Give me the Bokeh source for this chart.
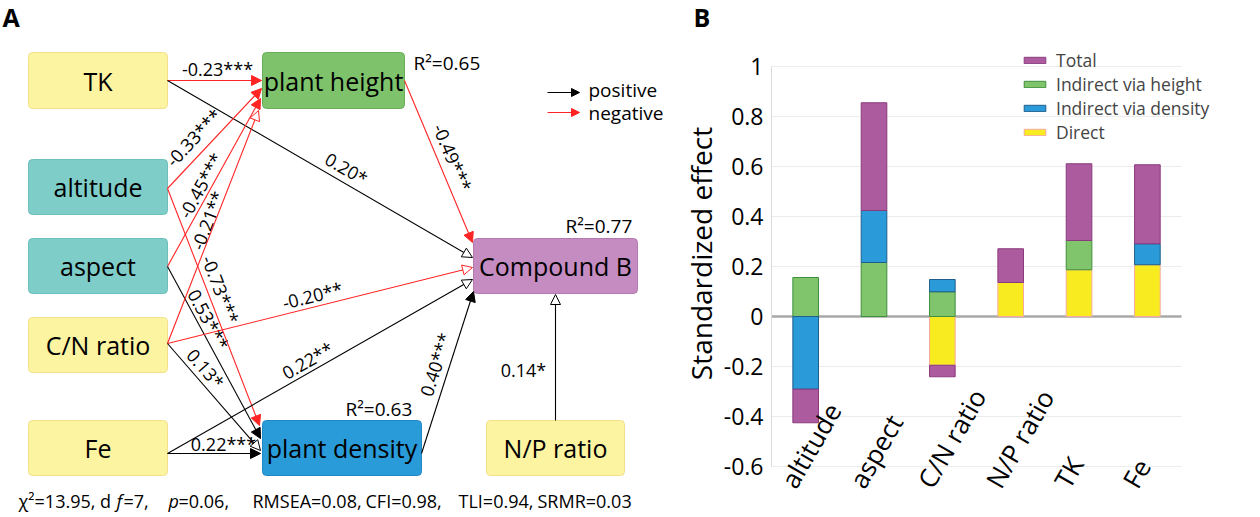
import math
from bokeh.plotting import figure
from bokeh.models import (Range1d, Arrow, NormalHead, ColumnDataSource, Grid,
                          LabelSet, Legend, LegendItem, FixedTicker)
from bokeh.layouts import row
from bokeh.embed import file_html
from bokeh.resources import INLINE
from bokeh.core.properties import value

FONT = "Open Sans"

# ---------------- Panel A data (path model) ----------------
node_names = ["TK", "altitude", "aspect", "C/N ratio", "Fe",
              "plant height", "plant density", "Compound B", "N/P ratio"]
node_kind = ["soil", "topo", "topo", "soil", "soil", "height", "density", "compound", "soil"]
r2_nodes = ["plant height", "Compound B", "plant density"]
r2_values = [0.65, 0.77, 0.63]
edge_from = ["TK", "TK", "altitude", "altitude", "aspect", "aspect", "C/N ratio",
             "C/N ratio", "C/N ratio", "Fe", "Fe", "plant height", "plant density", "N/P ratio"]
edge_to = ["plant height", "Compound B", "plant height", "plant density", "plant height",
           "plant density", "plant height", "Compound B", "plant density", "plant density",
           "Compound B", "Compound B", "Compound B", "Compound B"]
edge_coef = [-0.23, 0.20, -0.33, -0.73, -0.45, 0.53, -0.21, -0.20, 0.13, 0.22, 0.22, -0.49, 0.40, 0.14]
edge_sig = ["***", "*", "***", "***", "***", "***", "**", "**", "*", "***", "**", "***", "***", "*"]
fit_chi2, fit_df, fit_p = "13.95", "7", "0.06"
fit_rmsea, fit_cfi, fit_tli, fit_srmr = "0.08", "0.98", "0.94", "0.03"

# ---------------- Panel B data (standardized effects) ----------------
effect_vars = ["altitude", "aspect", "C/N ratio", "N/P ratio", "TK", "Fe"]
direct = [0.0, 0.0, -0.195, 0.136, 0.187, 0.207]
via_height = [0.156, 0.216, 0.099, 0.0, 0.117, 0.0]
via_density = [-0.291, 0.208, 0.049, 0.0, 0.0, 0.084]
total = [-0.134, 0.431, -0.046, 0.135, 0.307, 0.316]
y_ticks = [-0.6, -0.4, -0.2, 0.0, 0.2, 0.4, 0.6, 0.8, 1.0]
y_tick_labels = ["-0.6", "-0.4", "-0.2", "0", "0.2", "0.4", "0.6", "0.8", "1"]
y_title = "Standardized effect"

# ---------------- layout / style of the diagram (page pixels) ----------------
box_layout = {  # left, top, right, bottom
    "TK": (28, 52, 167, 108), "altitude": (28, 159, 167, 214), "aspect": (28, 238, 167, 293),
    "C/N ratio": (28, 317, 167, 372), "Fe": (28, 420, 167, 475),
    "plant height": (262, 52, 404, 108), "plant density": (262, 420, 421, 475),
    "Compound B": (473, 238, 637, 293), "N/P ratio": (486, 420, 624, 475),
}
kind_style = {
    "soil": ("#fcf4a0", "#f3e08a"), "topo": ("#7fcdc9", "#6cbfbb"),
    "height": ("#7ec36c", "#68ad57"), "density": ("#2a9bd9", "#2288c2"),
    "compound": ("#c48cc1", "#b27aaf"),
}
edge_layout = [  # x1, y1, x2, y2, label cx, label cy
    (167, 80, 261, 80, 217, 68), (167, 80, 472, 257, 346, 168),
    (167, 188, 261, 88, 193, 137), (167, 188, 259, 425, 220, 289),
    (167, 266, 260, 98, 200, 185), (167, 266, 260, 438, 208, 319),
    (167, 343, 258, 110, 207, 220), (167, 343, 472, 267, 312, 295),
    (167, 343, 260, 450, 205, 368), (167, 453, 260, 453, 223, 443),
    (167, 453, 472, 279, 307, 360), (404, 80, 472, 242, 452, 157),
    (421, 453, 473, 291, 435, 364), (555, 420, 555, 294, 523, 369),
]
r2_layout = {"plant height": (413, 62), "Compound B": (565, 225), "plant density": (345, 408)}
RED = "#ff2424"
BLACK = "#000000"

WA = 720
pA = figure(width=WA, height=517, x_range=Range1d(0, WA), y_range=Range1d(517, 0),
            output_backend="svg", toolbar_location=None, min_border=0, title=None)
pA.axis.visible = False
pA.grid.visible = False
pA.outline_line_color = None

# arrows
for i in range(len(edge_from)):
    x1, y1, x2, y2, lx, ly = edge_layout[i]
    col = RED if edge_coef[i] < 0 else BLACK
    filled = edge_sig[i] == "***"
    head = NormalHead(size=10, fill_color=col if filled else "white", line_color=col, line_width=1)
    pA.add_layout(Arrow(end=head, x_start=x1, y_start=y1, x_end=x2, y_end=y2,
                        line_color=col, line_width=1.1))

# boxes
bl, bt, br, bb, bf, bc = [], [], [], [], [], []
for n, k in zip(node_names, node_kind):
    l, t, r, b = box_layout[n]
    bl.append(l); bt.append(t); br.append(r); bb.append(b)
    bf.append(kind_style[k][0]); bc.append(kind_style[k][1])
pA.quad(left=bl, right=br, top=bt, bottom=bb, fill_color=bf, line_color=bc,
        line_width=1, border_radius=4)
pA.text(x=[(l + r) / 2 for l, r in zip(bl, br)], y=[(t + b) / 2 for t, b in zip(bt, bb)],
        text=node_names, text_font=value(FONT), text_font_size="25px",
        text_align="center", text_baseline="middle", text_color="black")

# edge labels
ex, ey, et, ea = [], [], [], []
for i in range(len(edge_from)):
    x1, y1, x2, y2, lx, ly = edge_layout[i]
    ang = math.atan2(-(y2 - y1), (x2 - x1))
    if ang > math.pi / 2 + 1e-6:
        ang -= math.pi
    if ang < -math.pi / 2 - 1e-6:
        ang += math.pi
    if edge_from[i] == "N/P ratio":
        ang = 0.0
    ex.append(lx); ey.append(ly); ea.append(ang)
    et.append(f"{edge_coef[i]:.2f}{edge_sig[i]}")
pA.text(x=ex, y=ey, text=et, angle=ea, text_font=value(FONT), text_font_size="18px",
        text_align="center", text_baseline="middle", text_color="black")

# R2 labels
pA.text(x=[r2_layout[n][0] for n in r2_nodes], y=[r2_layout[n][1] for n in r2_nodes],
        text=[f"R\u00b2={v:.2f}" for v in r2_values], text_font=value(FONT),
        text_font_size="19px", text_align="left", text_baseline="middle", text_color="black")

# legend of arrows
pA.add_layout(Arrow(end=NormalHead(size=8, fill_color=BLACK, line_color=BLACK),
                    x_start=547, y_start=92, x_end=579, y_end=92, line_color=BLACK, line_width=1.1))
pA.add_layout(Arrow(end=NormalHead(size=8, fill_color=RED, line_color=RED),
                    x_start=547, y_start=112, x_end=579, y_end=112, line_color=RED, line_width=1.1))
pA.text(x=[588, 588], y=[89, 112], text=["positive", "negative"], text_font=value(FONT),
        text_font_size="19px", text_align="left", text_baseline="middle", text_color="black")

# panel letters and panel-B axis title (placed in this canvas, left of panel B's axis)
pA.text(x=[2, 693], y=[16, 16], text=["A", "B"], text_font=value(FONT), text_font_size="25px",
        text_font_style="bold", text_align="left", text_baseline="middle", text_color="black")
pA.text(x=[719], y=[253], text=[y_title], angle=math.pi / 2, text_font=value(FONT),
        text_font_size="28px", text_align="center", text_baseline="bottom", text_color="black")

# fit statistics
seg_text = [f"\u03c7\u00b2={fit_chi2}, d", "f", f"={fit_df},", "p", f"={fit_p},",
            f"RMSEA={fit_rmsea},", f"CFI={fit_cfi},", f"TLI={fit_tli},", f"SRMR={fit_srmr}"]
seg_x = [18, 116, 123, 168, 178, 252, 365, 458, 537]
seg_style = ["normal", "italic", "normal", "italic", "normal", "normal", "normal", "normal", "normal"]
for s, x, st in zip(seg_text, seg_x, seg_style):
    pA.text(x=[x], y=[500], text=[s], text_font=value(FONT), text_font_size="18px",
            text_font_style=st, text_align="left", text_baseline="middle", text_color="black")

# ---------------- Panel B ----------------
WB = 1260 - WA
BL = 42
px_per_cat = 69.6
px_per_unit = 250.0
frame_w = WB - BL
pB = figure(width=WB, height=517,
            x_range=Range1d(0, frame_w / px_per_cat),
            y_range=Range1d(-0.6 - 51 / px_per_unit, 1.0 + 66 / px_per_unit),
            output_backend="svg", toolbar_location=None, title=None,
            min_border_left=BL, min_border_right=0, min_border_top=0, min_border_bottom=0)
pB.outline_line_color = None
pB.xaxis.visible = False
pB.xgrid.visible = False
pB.ygrid.ticker = FixedTicker(ticks=y_ticks)
pB.ygrid.grid_line_color = "#ececec"
pB.ygrid.cross_bounds = (0, len(effect_vars))
pB.yaxis.ticker = FixedTicker(ticks=y_ticks)
pB.yaxis.bounds = (y_ticks[0], y_ticks[-1])
pB.yaxis.major_label_overrides = {t: s for t, s in zip(y_ticks, y_tick_labels)}
pB.yaxis.major_tick_line_color = None
pB.yaxis.minor_tick_line_color = None
pB.yaxis.axis_line_color = "#d9d9d9"
pB.yaxis.major_label_text_font = FONT
pB.yaxis.major_label_text_font_size = "23px"
pB.yaxis.major_label_text_color = "black"
pB.yaxis.major_label_standoff = 2

zero_grid = Grid(dimension=1, ticker=FixedTicker(ticks=[0.0]), grid_line_color="#a8a8a8",
                 grid_line_width=2.5, cross_bounds=(-0.06, len(effect_vars)))
pB.add_layout(zero_grid)

xpos = [i + 0.5 for i in range(len(effect_vars))]
series = [
    ("Direct", direct, "#f8eb20", "#f5aa9c"),
    ("Indirect via height", via_height, "#80c46b", "#3f8f3c"),
    ("Indirect via density", via_density, "#2a9bd8", "#1f5d8c"),
    ("Total", total, "#ad5b9f", "#8a3a7d"),
]
pos = [0.0] * len(effect_vars)
neg = [0.0] * len(effect_vars)
rends = {}
for name, vals, fill, line in series:
    xs, bots, tops = [], [], []
    for i, v in enumerate(vals):
        if v == 0:
            continue
        if v > 0:
            bots.append(pos[i]); tops.append(pos[i] + v); pos[i] += v
        else:
            tops.append(neg[i]); bots.append(neg[i] + v); neg[i] += v
        xs.append(xpos[i])
    src = ColumnDataSource(dict(x=xs, bottom=bots, top=tops))
    rends[name] = pB.vbar(x="x", bottom="bottom", top="top", width=0.375, source=src,
                          fill_color=fill, line_color=line, line_width=1)

legend = Legend(items=[LegendItem(label=n, renderers=[rends[n]]) for n in
                       ["Total", "Indirect via height", "Indirect via density", "Direct"]],
                location=(250, 373))
legend.border_line_color = None
legend.background_fill_alpha = 0
legend.padding = 0
legend.margin = 0
legend.glyph_width = 27
legend.glyph_height = 8
legend.label_height = 20
legend.spacing = 0
legend.label_standoff = 8
legend.label_text_font = FONT
legend.label_text_font_size = "17.5px"
pB.add_layout(legend)

xl_src = ColumnDataSource(dict(x=xpos, y=[y_ticks[0]] * len(effect_vars), t=effect_vars))
pB.add_layout(LabelSet(x="x", y="y", text="t", source=xl_src, x_offset=-18, y_offset=-19,
                       angle=60, angle_units="deg", text_align="left", text_baseline="middle",
                       text_font=value(FONT), text_font_size="26px", text_color="black"))

layout = row(pA, pB)
open("out.html", "w").write(file_html(layout, INLINE))
